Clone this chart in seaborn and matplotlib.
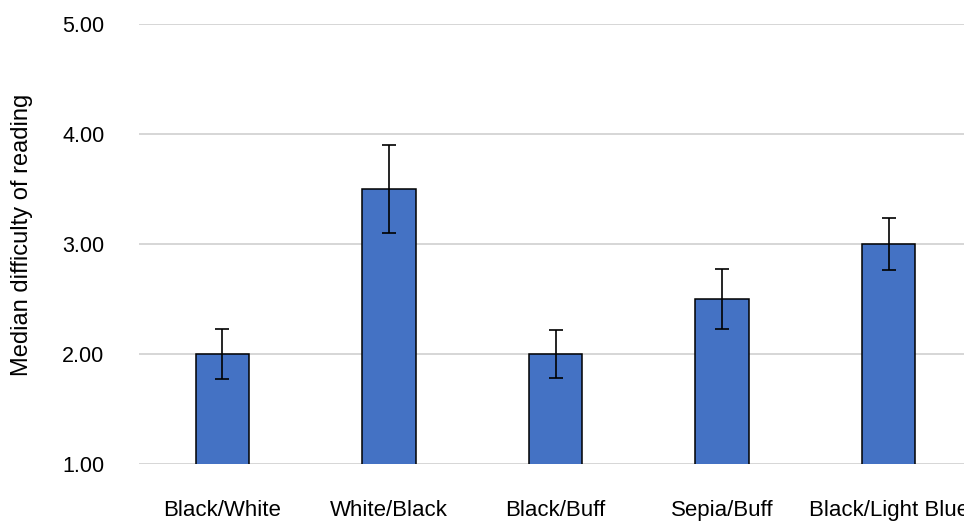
import matplotlib
matplotlib.use("Agg")
import matplotlib.pyplot as plt
import seaborn as sns
import pandas as pd

# Data
conditions = ["Black/White", "White/Black", "Black/Buff", "Sepia/Buff", "Black/Light Blue"]
median_difficulty = [2.00, 3.50, 2.00, 2.50, 3.00]
error = [0.23, 0.40, 0.22, 0.27, 0.24]
y_ticks = [1.00, 2.00, 3.00, 4.00, 5.00]

df = pd.DataFrame({"condition": conditions, "difficulty": median_difficulty})

sns.set_theme(style="white")
plt.rcParams["font.family"] = ["Liberation Sans", "DejaVu Sans"]

fig = plt.figure(figsize=(9.64, 5.24), dpi=100)
# axes runs slightly past the right edge, so the last label is clipped as in the source
ax = fig.add_axes([139 / 964, 60 / 524, 833 / 964, 440 / 524])

sns.barplot(data=df, x="condition", y="difficulty", color="#4472C4",
            saturation=1, width=0.32, edgecolor="black", linewidth=1.1,
            errorbar=None, ax=ax, zorder=3)

# Error bars
ax.errorbar(conditions, median_difficulty, yerr=error, fmt="none",
            ecolor="black", elinewidth=1.2, capsize=5, capthick=1.2, zorder=4)

ax.set_ylim(1, 5)
ax.set_xlim(-0.5, 4.5)
ax.set_yticks(y_ticks)
ax.set_yticklabels([f"{v:.2f}" for v in y_ticks])
ax.yaxis.grid(True, color="#d6d6d6", linewidth=1.4, zorder=0)
ax.xaxis.grid(False)
ax.set_axisbelow(True)
for s in ax.spines.values():
    s.set_visible(False)

ax.tick_params(axis="y", length=0, pad=25, labelsize=15.5, labelcolor="black")
ax.tick_params(axis="x", length=0, pad=26, labelsize=16, labelcolor="black")
ax.set_xlabel("")
ax.set_ylabel("Median difficulty of reading", fontsize=17, color="black")
ax.yaxis.set_label_coords(-106 / 833, 0.52)

fig.savefig("out.png", dpi=100)
